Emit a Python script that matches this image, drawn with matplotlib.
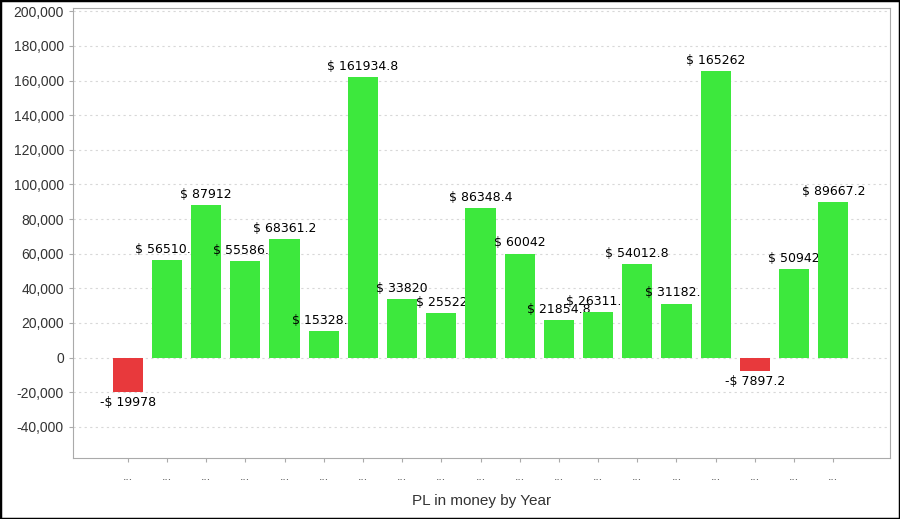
import numpy as np
from matplotlib import pyplot as plt
from matplotlib.ticker import FuncFormatter

plt.rcParams['font.family'] = ['Liberation Sans', 'DejaVu Sans']

# values per year (labels truncated in the source chart)
years = ["..."] * 19
pl_values = [-19978, 56510.4, 87912, 55586.4, 68361.2, 15328.4, 161934.8, 33820,
             25522, 86348.4, 60042, 21854.8, 26311.2, 54012.8, 31182.4, 165262,
             -7897.2, 50942, 89667.2]
value_labels = ["%s$ %s" % ("-" if v < 0 else "", ("%.1f" % abs(v)).rstrip("0").rstrip("."))
                for v in pl_values]

fig = plt.figure(figsize=(9, 5.19), dpi=100)
ax = fig.add_axes([0.081, 0.1175, 0.908, 0.8675])

x = np.arange(len(pl_values))
colors = ["#e8393c" if v < 0 else "#3de83d" for v in pl_values]

# each bar then its label, so a label sits over the previous bar
# but under the next one (as in the original)
for i, (xi, v, lab, c) in enumerate(zip(x, pl_values, value_labels, colors)):
    ax.bar(xi, v, width=0.77, color=c, zorder=3 + 2 * i)
    if v >= 0:
        ax.annotate(lab, (xi, v), xytext=(0, 3), textcoords="offset points",
                    ha="center", va="bottom", fontsize=9, family="DejaVu Sans",
                    zorder=4 + 2 * i)
    else:
        ax.annotate(lab, (xi, v), xytext=(0, -3), textcoords="offset points",
                    ha="center", va="top", fontsize=9, family="DejaVu Sans",
                    zorder=4 + 2 * i)

ax.set_xlim(-1.4, 19.45)
ax.set_ylim(-58000, 202000)
ax.set_yticks(np.arange(-40000, 200001, 20000))
ax.yaxis.set_major_formatter(FuncFormatter(lambda v, p: "{:,.0f}".format(v)))
ax.set_xticks(x)
ax.set_xticklabels(years, fontsize=9, color="#555555")
ax.tick_params(axis="x", length=3, color="#aaaaaa", pad=6)
ax.tick_params(axis="y", length=3, color="#aaaaaa", labelsize=10, labelcolor="#333333")
ax.grid(axis="y", linestyle=(0, (2, 3)), color="#d8d8d8", linewidth=0.8, zorder=0)
for s in ax.spines.values():
    s.set_color("#aaaaaa")
    s.set_zorder(100)
ax.set_xlabel("PL in money by Year", fontsize=11, color="#333333", labelpad=8)

# outer border
fig.patches.append(plt.Rectangle((0, 0), 1, 1, transform=fig.transFigure,
                                 fill=False, edgecolor="black", linewidth=2.5))

plt.savefig("out.png")
